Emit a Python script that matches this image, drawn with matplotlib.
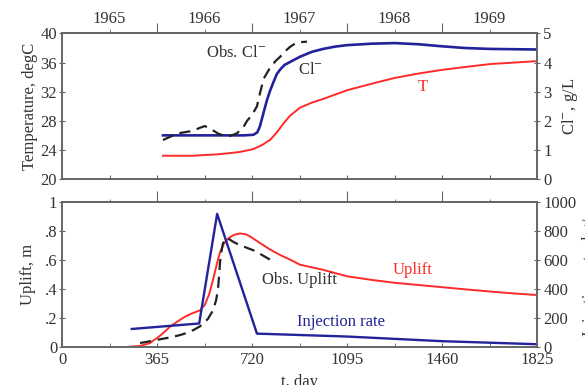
import numpy as np
import matplotlib.pyplot as plt

# ── Data ──────────────────────────────────────────────────────────────────────
cl_day = [388, 700, 735, 750, 760, 775, 787, 800, 811, 825, 837, 855, 876, 914, 960,
          1003, 1050, 1095, 1190, 1279, 1370, 1460, 1550, 1645, 1735, 1825]
cl_val = [1.5, 1.5, 1.52, 1.6, 1.8, 2.3, 2.7, 3.05, 3.3, 3.6, 3.75, 3.92, 4.02, 4.2, 4.37,
          4.47, 4.55, 4.6, 4.65, 4.67, 4.63, 4.56, 4.5, 4.47, 4.46, 4.45]

t_day = [388, 500, 600, 680, 734, 770, 800, 825, 850, 876, 914, 960, 1003, 1095,
         1190, 1279, 1370, 1460, 1550, 1645, 1735, 1825]
t_val = [23.2, 23.2, 23.4, 23.7, 24.1, 24.7, 25.4, 26.4, 27.6, 28.7, 29.8, 30.5, 31.0, 32.2,
         33.1, 33.9, 34.5, 35.0, 35.4, 35.8, 36.0, 36.2]

obs_cl_day = [388, 420, 453, 500, 530, 549, 575, 600, 625, 645, 670, 695, 711, 730,
              749, 762, 775, 799, 820, 837, 856, 876, 895, 914, 941]
obs_cl_val = [1.34, 1.47, 1.58, 1.65, 1.76, 1.82, 1.7, 1.56, 1.48, 1.48, 1.56, 1.75, 2.0, 2.2,
              2.5, 3.0, 3.45, 3.82, 4.05, 4.19, 4.38, 4.54, 4.65, 4.7, 4.72]

up_day = [261, 300, 338, 380, 415, 445, 473, 500, 530, 549, 565, 580, 595, 607, 622,
          638, 660, 684, 705, 722, 760, 799, 840, 876, 914, 1003, 1095, 1190, 1279,
          1370, 1460, 1550, 1645, 1735, 1825]
up_val = [0.0, 0.005, 0.025, 0.08, 0.138, 0.175, 0.207, 0.23, 0.25, 0.29, 0.36, 0.46, 0.57,
          0.65, 0.71, 0.745, 0.77, 0.78, 0.775, 0.76, 0.715, 0.67, 0.63, 0.6, 0.565, 0.53,
          0.485, 0.46, 0.44, 0.425, 0.41, 0.395, 0.38, 0.367, 0.356]

obs_up_day = [300, 345, 388, 420, 453, 490, 530, 560, 580, 592, 599, 604, 607, 612,
              618, 626, 634, 660, 684, 712, 741, 770, 799]
obs_up_val = [0.025, 0.04, 0.055, 0.065, 0.08, 0.1, 0.14, 0.19, 0.25, 0.32, 0.39, 0.5, 0.58,
              0.65, 0.71, 0.74, 0.75, 0.72, 0.70, 0.68, 0.66, 0.63, 0.6]

inj_day = [268, 527, 596, 749, 1095, 1460, 1825]
inj_val = [122, 160, 915, 90, 70, 38, 17]

years = ["1965", "1966", "1967", "1968", "1969"]
day_ticks = [0, 365, 730, 1095, 1460, 1825]
day_labels = ["0", "365", "720", "1095", "1460", "1825"]

# ── Style ─────────────────────────────────────────────────────────────────────
BLUE = "#22229a"
RED = "#ff2a2a"
SPINE = "#666666"
TXT = "#333333"
FS = 12

plt.rcParams["font.family"] = ["Liberation Serif", "DejaVu Serif"]
plt.rcParams["mathtext.fontset"] = "stix"
plt.rcParams["axes.edgecolor"] = SPINE
plt.rcParams["axes.linewidth"] = 1.2
plt.rcParams["xtick.color"] = SPINE
plt.rcParams["ytick.color"] = SPINE
plt.rcParams["xtick.labelcolor"] = TXT
plt.rcParams["ytick.labelcolor"] = TXT
plt.rcParams["font.size"] = FS

mid_ticks = [182.5 + 365 * i for i in range(5)]
all_ticks = [182.5 * i for i in range(1, 10)]

fig = plt.figure(figsize=(5.85, 3.85), dpi=100)
ax1 = fig.add_axes([0.106, 0.535, 0.812, 0.378])
ax2 = fig.add_axes([0.106, 0.0995, 0.812, 0.377])

# ── Top panel ─────────────────────────────────────────────────────────────────
ax1.set_xlim(0, 1825)
ax1.set_ylim(20, 40)
ax1.set_yticks(np.arange(20, 41, 4))
ax1.tick_params(axis="y", direction="inout", length=5, labelsize=FS, pad=1)
ax1.set_xticks(all_ticks)
ax1.tick_params(axis="x", direction="in", length=3, labelbottom=False)
ax1.plot(t_day, t_val, color=RED, lw=1.4)
ax1.set_ylabel("Temperature, degC", color=TXT, fontsize=FS, labelpad=2)

ax1r = ax1.twinx()
ax1r.set_ylim(0, 5)
ax1r.set_yticks(range(6))
ax1r.tick_params(axis="y", direction="inout", length=5, labelsize=FS, pad=2)
ax1r.plot(cl_day, cl_val, color=BLUE, lw=1.9)
ax1r.plot(obs_cl_day, obs_cl_val, color="#222222", lw=1.6, ls=(0, (5, 3)))
ax1r.set_ylabel("Cl$^{-}$, g/L", color=TXT, fontsize=FS, labelpad=6)

top = ax1.secondary_xaxis("top")
top.set_xticks([365, 730, 1095, 1460])
top.set_xticks(mid_ticks, labels=years, minor=True)
top.tick_params(which="major", direction="out", length=7, labeltop=False)
top.tick_params(which="minor", direction="out", length=3, labelsize=FS, pad=2)

ax1.text(669, 37.3, "Obs. Cl$^{-}$", color=TXT, fontsize=FS, ha="center", va="center")
ax1.text(957, 35.0, "Cl$^{-}$", color=TXT, fontsize=FS, ha="center", va="center")
ax1.text(1387, 32.6, "T", color=RED, fontsize=FS, ha="center", va="center")

# ── Bottom panel ──────────────────────────────────────────────────────────────
ax2.set_xlim(0, 1825)
ax2.set_ylim(0, 1)
ax2.set_yticks([0, 0.2, 0.4, 0.6, 0.8, 1.0], labels=["0", ".2", ".4", ".6", ".8", "1"])
ax2.tick_params(axis="y", direction="inout", length=5, labelsize=FS, pad=1)
ax2.set_xticks(day_ticks, labels=day_labels)
ax2.set_xticks(mid_ticks, minor=True)
ax2.tick_params(axis="x", which="both", direction="in", length=3, labelsize=FS, pad=4)
ax2.plot(up_day, up_val, color=RED, lw=1.4)
ax2.plot(obs_up_day, obs_up_val, color="#222222", lw=1.6, ls=(0, (5, 3)))
ax2.set_ylabel("Uplift, m", color=TXT, fontsize=FS, labelpad=6)
ax2.set_xlabel("t, day", color=TXT, fontsize=FS, labelpad=4)

ax2r = ax2.twinx()
ax2r.set_ylim(0, 1000)
ax2r.set_yticks(range(0, 1001, 200))
ax2r.tick_params(axis="y", direction="inout", length=5, labelsize=FS, pad=2)
ax2r.plot(inj_day, inj_val, color=BLUE, lw=1.7)
ax2r.set_ylabel("Injection rate, kg/s", color=TXT, fontsize=FS, labelpad=4)

top2 = ax2.secondary_xaxis("top")
top2.set_xticks([365, 730, 1095, 1460])
top2.set_xticks(mid_ticks, minor=True)
top2.tick_params(which="major", direction="out", length=8, labeltop=False)
top2.tick_params(which="minor", direction="out", length=2, labeltop=False)

ax2.text(911, 0.46, "Obs. Uplift", color=TXT, fontsize=FS, ha="center", va="center")
ax2.text(1345, 0.53, "Uplift", color=RED, fontsize=FS, ha="center", va="center")
ax2.text(1072, 0.17, "Injection rate", color=BLUE, fontsize=FS, ha="center", va="center")

fig.savefig("out.png", dpi=100)
